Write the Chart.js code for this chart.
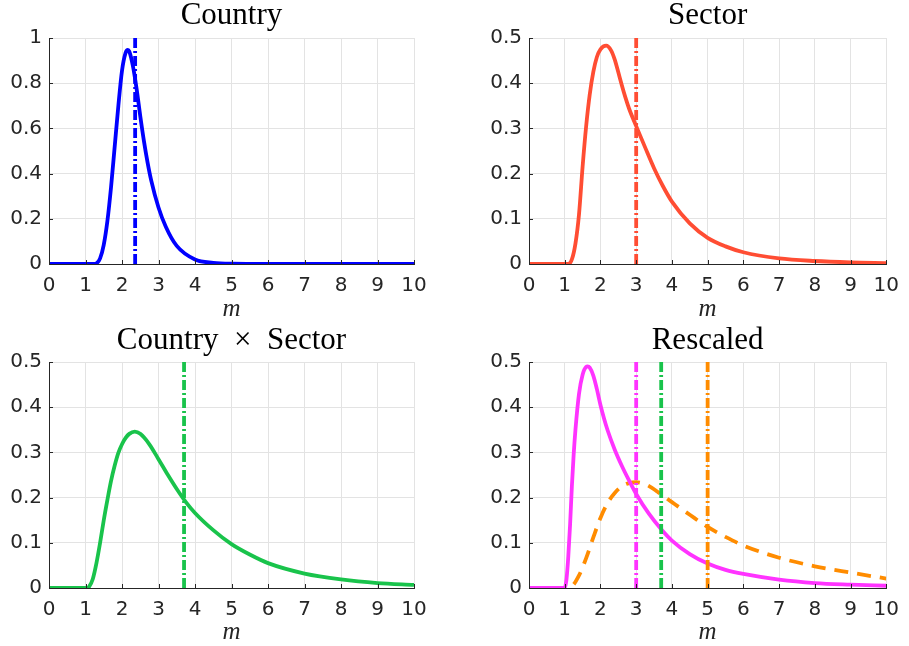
<!DOCTYPE html>
<html>
<head>
<meta charset="utf-8">
<script src="https://cdn.jsdelivr.net/npm/chart.js@4.4.0/dist/chart.umd.min.js"></script>
<style>
  body { margin: 0; background: #fff; width: 909px; height: 646px; position: relative; overflow: hidden; }
  .panel { position: absolute; }
</style>
</head>
<body>
<div class="panel" style="left:0;top:0;width:450px;height:324px"><canvas id="c1"></canvas></div>
<div class="panel" style="left:480px;top:0;width:429px;height:324px"><canvas id="c2"></canvas></div>
<div class="panel" style="left:0;top:324px;width:450px;height:322px"><canvas id="c3"></canvas></div>
<div class="panel" style="left:480px;top:324px;width:429px;height:322px"><canvas id="c4"></canvas></div>
<script>
// values
const countryM = [0, 1.2, 1.3, 1.4, 1.5, 1.6, 1.7, 1.8, 1.9, 2.0, 2.1, 2.16, 2.2, 2.3, 2.4, 2.5, 2.6, 2.7, 2.8, 3.0, 3.2, 3.5, 4.0, 4.5, 5.0, 6.0, 10];
const countryY = [0, 0, 0.003, 0.025, 0.085, 0.19, 0.34, 0.52, 0.70, 0.855, 0.935, 0.947, 0.94, 0.875, 0.775, 0.655, 0.545, 0.45, 0.37, 0.25, 0.165, 0.08, 0.02, 0.005, 0.001, 0, 0];

const sectorM = [0, 1.1, 1.2, 1.3, 1.4, 1.5, 1.6, 1.7, 1.8, 1.9, 2.0, 2.16, 2.3, 2.4, 2.5, 2.6, 2.7, 2.8, 3.0, 3.25, 3.5, 3.75, 4.0, 4.5, 5.0, 5.5, 6, 7, 8, 9, 10];
const sectorY = [0, 0, 0.01, 0.045, 0.11, 0.215, 0.305, 0.375, 0.425, 0.458, 0.475, 0.483, 0.472, 0.452, 0.424, 0.395, 0.368, 0.344, 0.305, 0.258, 0.212, 0.172, 0.138, 0.09, 0.058, 0.039, 0.026, 0.0125, 0.0066, 0.0035, 0.002];

const bothM = [0, 1.05, 1.1, 1.2, 1.3, 1.4, 1.5, 1.6, 1.7, 1.8, 1.9, 2.0, 2.1, 2.2, 2.35, 2.5, 2.75, 3.0, 3.25, 3.5, 3.75, 4.0, 4.5, 5, 5.5, 6, 7, 8, 9, 10];
const bothY = [0, 0, 0.003, 0.02, 0.055, 0.1, 0.15, 0.195, 0.237, 0.271, 0.299, 0.318, 0.332, 0.341, 0.346, 0.341, 0.318, 0.285, 0.251, 0.219, 0.19, 0.166, 0.128, 0.097, 0.074, 0.055, 0.032, 0.019, 0.011, 0.007];

const rescPinkM = [0, 1.0, 1.05, 1.1, 1.15, 1.2, 1.25, 1.3, 1.4, 1.5, 1.6, 1.64, 1.7, 1.8, 1.9, 2.0, 2.1, 2.2, 2.4, 2.6, 2.8, 3.0, 3.35, 3.7, 4.0, 4.5, 5, 5.5, 6, 7, 8, 9, 10];
const rescPinkY = [0, 0, 0.02, 0.07, 0.14, 0.225, 0.295, 0.35, 0.43, 0.472, 0.489, 0.49, 0.4875, 0.47, 0.44, 0.405, 0.375, 0.349, 0.306, 0.27, 0.238, 0.208, 0.165, 0.13, 0.105, 0.075, 0.054, 0.04, 0.031, 0.0185, 0.011, 0.0075, 0.005];

const rescOrangeM = [0, 1.0, 1.2, 1.4, 1.6, 1.8, 2.0, 2.2, 2.4, 2.6, 2.8, 3.0, 3.3, 3.7, 4.0, 4.5, 5, 5.5, 6, 7, 8, 9, 10];
const rescOrangeY = [0, 0, 0.004, 0.028, 0.066, 0.112, 0.155, 0.188, 0.21, 0.225, 0.232, 0.234, 0.228, 0.207, 0.19, 0.162, 0.135, 0.113, 0.094, 0.067, 0.048, 0.034, 0.021];

// dash-dot marker positions
const countryMean = 2.36;
const sectorMean = 3.0;
const bothMean = 3.7;
const rescMeans = [3.0, 3.7, 5.0];

const xTicks = [0, 1, 2, 3, 4, 5, 6, 7, 8, 9, 10];

const BLUE = '#0000ff', RED = '#ff4d33', GREEN = '#19c34b', PINK = '#ff33ff', ORANGE = '#ff8c00';
const INK = '#262626';

function pts(xs, ys) {
  return xs.map((x, i) => ({ x: x, y: ys[i] }));
}

function curve(xs, ys, color, dash) {
  return {
    data: pts(xs, ys), borderColor: color, borderWidth: 3.8, borderDash: dash || [],
    pointRadius: 0, cubicInterpolationMode: 'monotone', order: 2
  };
}

function vline(at, ymax, color) {
  return {
    data: [{ x: at, y: 0 }, { x: at, y: ymax }], borderColor: color, borderWidth: 3.8,
    borderDash: [10, 3, 2, 3], pointRadius: 0, order: 1
  };
}

// small inward ticks like the original axes, and the title centred over the plot box
const axesDeco = {
  id: 'axesDeco',
  afterDraw(chart, args, opts) {
    const { ctx, chartArea: a, scales } = chart;
    ctx.save();
    ctx.strokeStyle = INK;
    ctx.lineWidth = 1;
    ctx.beginPath();
    scales.x.ticks.forEach(t => {
      const px = Math.round(scales.x.getPixelForValue(t.value)) + 0.5;
      ctx.moveTo(px, a.bottom); ctx.lineTo(px, a.bottom - 4);
    });
    scales.y.ticks.forEach(t => {
      const py = Math.round(scales.y.getPixelForValue(t.value)) + 0.5;
      ctx.moveTo(a.left, py); ctx.lineTo(a.left + 4, py);
    });
    ctx.stroke();
    ctx.fillStyle = '#000';
    ctx.font = '31px "Liberation Serif"';
    ctx.textAlign = 'center';
    ctx.textBaseline = 'middle';
    ctx.fillText(opts.text, (a.left + a.right) / 2, opts.y);
    ctx.restore();
  }
};

function makeChart(id, title, ymax, ystep, datasets, pad) {
  new Chart(document.getElementById(id), {
    type: 'line',
    data: { datasets: datasets },
    plugins: [axesDeco],
    options: {
      animation: false,
      responsive: true,
      maintainAspectRatio: false,
      layout: { padding: { left: 0, right: pad.right, top: 38, bottom: 0 } },
      plugins: {
        legend: { display: false },
        tooltip: { enabled: false },
        title: { display: false },
        axesDeco: { text: title, y: pad.ty }
      },
      scales: {
        x: {
          type: 'linear', min: 0, max: 10,
          afterBuildTicks: s => { s.ticks = xTicks.map(v => ({ value: v })); },
          afterFit: s => { s.height = pad.xh; },
          ticks: { color: INK, padding: 10, font: { family: 'DejaVu Sans', size: 20 }, maxRotation: 0 },
          grid: { color: '#e3e3e3', drawTicks: false },
          border: { color: INK, width: 1 },
          title: {
            display: true, text: 'm', color: INK,
            font: { family: 'Liberation Serif', style: 'italic', size: 25, lineHeight: 1 },
            padding: { top: 0, bottom: pad.mb }
          }
        },
        y: {
          min: 0, max: ymax,
          afterFit: s => { s.width = 49; },
          ticks: {
            stepSize: ystep, color: INK, padding: 7, font: { family: 'DejaVu Sans', size: 20 },
            callback: v => String(Math.round(v * 100) / 100)
          },
          grid: { color: '#e3e3e3', drawTicks: false },
          border: { color: INK, width: 1 }
        }
      }
    }
  });
}

const topPad = { right: 36, ty: 16, xh: 60, mb: 2 };
const topPad2 = { right: 14, ty: 16, xh: 60, mb: 2 };
const botPad = { right: 36, ty: 17, xh: 58, mb: 1 };
const botPad2 = { right: 14, ty: 17, xh: 58, mb: 1 };

makeChart('c1', 'Country', 1, 0.2, [
  vline(countryMean, 1, BLUE),
  curve(countryM, countryY, BLUE)
], topPad);

makeChart('c2', 'Sector', 0.5, 0.1, [
  vline(sectorMean, 0.5, RED),
  curve(sectorM, sectorY, RED)
], topPad2);

makeChart('c3', 'Country\u2002\u00d7\u2002Sector', 0.5, 0.1, [
  vline(bothMean, 0.5, GREEN),
  curve(bothM, bothY, GREEN)
], botPad);

makeChart('c4', 'Rescaled', 0.5, 0.1, [
  vline(rescMeans[0], 0.5, PINK),
  vline(rescMeans[1], 0.5, GREEN),
  vline(rescMeans[2], 0.5, ORANGE),
  curve(rescPinkM, rescPinkY, PINK),
  Object.assign(curve(rescOrangeM, rescOrangeY, ORANGE, [14, 9]), { order: 3 })
], botPad2);
</script>
</body>
</html>
